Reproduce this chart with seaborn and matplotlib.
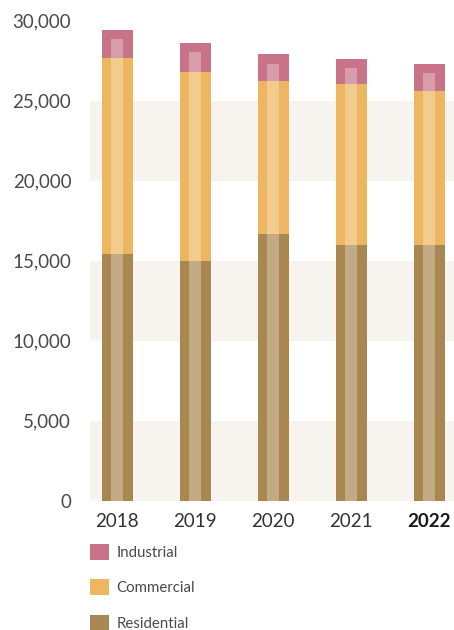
import matplotlib
matplotlib.use("Agg")
import matplotlib.pyplot as plt
from matplotlib.patches import Patch
import seaborn as sns
import pandas as pd
import numpy as np

years = ["2018", "2019", "2020", "2021", "2022"]
residential = [15400, 15000, 16700, 16000, 16000]
commercial = [12300, 11800, 9550, 10050, 9600]
industrial = [1750, 1800, 1650, 1560, 1700]
inner_stripe = [28850, 28050, 27300, 27050, 26750]
series_names = ["Industrial", "Commercial", "Residential"]
series_colors = ["#C87387", "#EDB660", "#A88750"]
y_ticks = [0, 5000, 10000, 15000, 20000, 25000, 30000]

sns.set_theme(style="white")
plt.rcParams["font.family"] = ["Lato", "DejaVu Sans"]

df = pd.DataFrame({
    "year": years,
    "Residential": residential,
    "Commercial": commercial,
    "Industrial": industrial,
    "inner": inner_stripe,
})
df["cum_res"] = df["Residential"]
df["cum_com"] = df["cum_res"] + df["Commercial"]
df["cum_ind"] = df["cum_com"] + df["Industrial"]

fig = plt.figure(figsize=(4.54, 6.30), dpi=100)
ax = fig.add_axes([90 / 454, 129.3 / 630, 364 / 454, 480 / 630])

band = "#F7F4EF"
for lo in (0, 10000, 20000):
    ax.axhspan(lo, lo + 5000, color=band, zorder=0, lw=0)

w = 0.4
for col, c in zip(["cum_ind", "cum_com", "cum_res"], series_colors):
    sns.barplot(data=df, x="year", y=col, color=c, width=w, ax=ax,
                saturation=1, linewidth=0, zorder=2)
sns.barplot(data=df, x="year", y="inner", color="white", alpha=0.3,
            width=0.155, ax=ax, saturation=1, linewidth=0, zorder=3)

ax.set_xlim(-0.35, 4.317)
ax.set_ylim(0, 30000)
ax.set_yticks(y_ticks)
ax.set_yticklabels([f"{v:,}" for v in y_ticks])
ax.set_xlabel("")
ax.set_ylabel("")
for s in ax.spines.values():
    s.set_visible(False)
ax.tick_params(axis="y", length=0, pad=13.5, labelsize=13.5, labelcolor="#4a4a4a")
ax.tick_params(axis="x", length=0, pad=8.5, labelsize=13.5, labelcolor="#333333")
ax.set_xticks(range(len(years)))
ax.set_xticklabels(years)
for lbl in ax.get_xticklabels():
    if lbl.get_text() == years[-1]:
        lbl.set_fontweight("bold")
        lbl.set_color("#1a1a1a")

handles = [Patch(facecolor=c, edgecolor="none", label=n)
           for n, c in zip(series_names, series_colors)]
fig.legend(handles=handles, loc="upper left",
           bbox_to_anchor=(90 / 454, 1 - 544 / 630),
           bbox_transform=fig.transFigure, frameon=False,
           fontsize=10.8, handlelength=1.25, handleheight=1.25,
           handletextpad=0.5, labelspacing=1.3, borderpad=0,
           borderaxespad=0, labelcolor="#4a4a4a")

fig.savefig("out.png", dpi=100)
